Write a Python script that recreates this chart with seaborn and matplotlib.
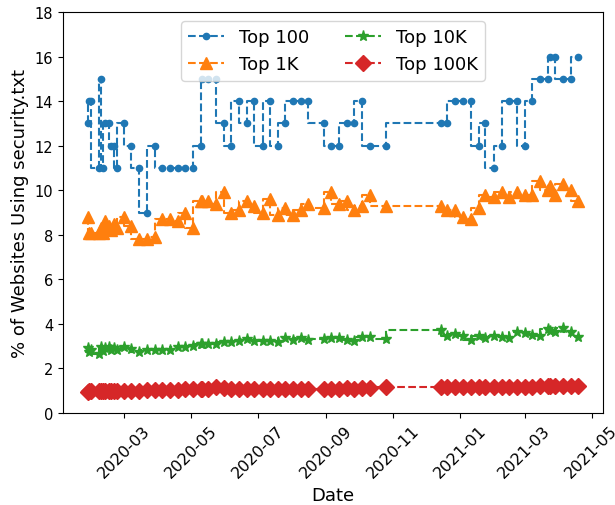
import matplotlib
matplotlib.use("Agg")
import matplotlib.pyplot as plt
import matplotlib.dates as mdates
import pandas as pd
import seaborn as sns

# Weekly crawl dates
dates = [
    "2020-01-28", "2020-01-29", "2020-01-31", "2020-02-07", "2020-02-09", "2020-02-11",
    "2020-02-13", "2020-02-17", "2020-02-18", "2020-02-21", "2020-02-24",
    "2020-03-01", "2020-03-08", "2020-03-15", "2020-03-22", "2020-03-29",
    "2020-04-05", "2020-04-12", "2020-04-19", "2020-04-26",
    "2020-05-03", "2020-05-10", "2020-05-11", "2020-05-17", "2020-05-24", "2020-05-31",
    "2020-06-07", "2020-06-14", "2020-06-21", "2020-06-28",
    "2020-07-06", "2020-07-12", "2020-07-19", "2020-07-26",
    "2020-08-02", "2020-08-09", "2020-08-16", "2020-08-30",
    "2020-09-06", "2020-09-13", "2020-09-20", "2020-09-27",
    "2020-10-04", "2020-10-11", "2020-10-26",
    "2020-12-15", "2020-12-20", "2020-12-28",
    "2021-01-04", "2021-01-11", "2021-01-18", "2021-01-24",
    "2021-02-01", "2021-02-08", "2021-02-15", "2021-02-22",
    "2021-03-01", "2021-03-08", "2021-03-15", "2021-03-22", "2021-03-24", "2021-03-29",
    "2021-04-05", "2021-04-12", "2021-04-19",
]

top_100 = [
    13, 14, 14, 11, 15, 11, 13, 13, 12, 12, 11,
    13, 12, 11, 9, 12,
    11, 11, 11, 11,
    11, 12, 15, 15, 15, 13,
    12, 14, 13, 14,
    12, 14, 12, 13,
    14, 14, 14, 13,
    12, 12, 13, 13,
    14, 12, 12,
    13, 13, 14,
    14, 14, 12, 13,
    11, 12, 14, 14,
    12, 14, 15, 15, 16, 16,
    15, 15, 16,
]

top_1k = [
    8.8, 8.1, 8.1, 8.1, 8.3, 8.1, 8.6, 8.4, 8.2, 8.5, 8.3,
    8.8, 8.4, 7.8, 7.8, 7.9,
    8.7, 8.7, 8.6, 9.0,
    8.3, 9.5, 9.5, 9.5, 9.4, 9.9,
    9.0, 9.1, 9.5, 9.3,
    9.0, 9.6, 8.9, 9.2,
    8.9, 9.1, 9.4, 9.2,
    9.9, 9.4, 9.5, 9.1,
    9.3, 9.8, 9.3,
    9.3, 9.1, 9.1,
    8.8, 8.7, 9.2, 9.8,
    9.7, 9.9, 9.7, 9.9,
    9.8, 9.8, 10.4, 10.0, 10.2, 9.8,
    10.3, 10.0, 9.5,
]

top_10k = [
    2.9, 2.75, 2.85, 2.65, 2.95, 2.8, 2.9, 2.95, 2.85, 2.9, 2.85,
    2.95, 2.87, 2.72, 2.84, 2.85,
    2.85, 2.83, 2.95, 2.97,
    3.02, 3.12, 3.1, 3.12, 3.12, 3.17,
    3.17, 3.25, 3.32, 3.25,
    3.21, 3.21, 3.17, 3.36,
    3.27, 3.36, 3.27, 3.3,
    3.36, 3.36, 3.27, 3.25,
    3.4, 3.42, 3.32,
    3.72, 3.47, 3.54,
    3.44, 3.27, 3.44, 3.36,
    3.44, 3.42, 3.35, 3.62,
    3.6, 3.52, 3.44, 3.77, 3.7, 3.62,
    3.81, 3.62, 3.42,
]

top_100k = [
    0.93, 0.97, 0.98, 0.98, 1.0, 0.99, 1.0, 1.0, 0.99, 1.0, 1.0,
    1.01, 1.0, 1.0, 1.02, 1.03,
    1.03, 1.05, 1.05, 1.06,
    1.07, 1.08, 1.08, 1.09, 1.15, 1.12,
    1.1, 1.1, 1.08, 1.07,
    1.06, 1.07, 1.08, 1.08,
    1.09, 1.1, 1.08, 1.09,
    1.1, 1.1, 1.12, 1.1,
    1.12, 1.13, 1.15,
    1.15, 1.16, 1.15,
    1.16, 1.15, 1.17, 1.16,
    1.17, 1.17, 1.18, 1.17,
    1.18, 1.18, 1.19, 1.2, 1.2, 1.21,
    1.2, 1.21, 1.2,
]

labels = ["Top 100", "Top 1K", "Top 10K", "Top 100K"]
series = [top_100, top_1k, top_10k, top_100k]
markers = ["o", "^", "*", "D"]
marker_sizes = [4.5, 8, 8, 8]
colors = ["C0", "C1", "C2", "C3"]

x = pd.to_datetime(dates)

fig, ax = plt.subplots(figsize=(6.15, 5.06), dpi=100)
for lab, vals, mk, ms, col in zip(labels, series, markers, marker_sizes, colors):
    sns.lineplot(
        x=x, y=vals, ax=ax, label=lab, color=col,
        marker=mk, markersize=ms, markeredgecolor=col, markeredgewidth=1,
        linestyle="--", linewidth=1.5, drawstyle="steps-pre",
    )

ax.set_ylim(0, 18)
ax.set_yticks(range(0, 19, 2))
ax.xaxis.set_major_locator(mdates.MonthLocator(bymonth=[1, 3, 5, 7, 9, 11]))
ax.xaxis.set_major_formatter(mdates.DateFormatter("%Y-%m"))
plt.setp(ax.get_xticklabels(), rotation=45, fontsize=11.5)
ax.tick_params(axis="y", labelsize=10.5)

ax.set_xlabel("Date", fontsize=13)
ax.set_ylabel("% of Websites Using security.txt", fontsize=13)
ax.legend(loc="upper center", ncol=2, fontsize=13)

fig.subplots_adjust(left=0.1024, right=0.9805, top=0.9743, bottom=0.1818)
fig.savefig("out.png", dpi=100)
